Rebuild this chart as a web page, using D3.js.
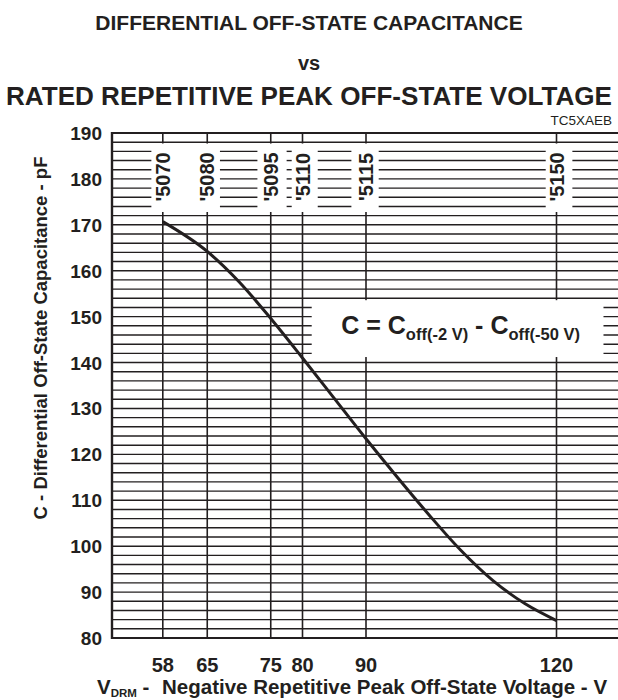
<!DOCTYPE html>
<html><head><meta charset="utf-8">
<script src="https://cdn.jsdelivr.net/npm/d3@7"></script>
<style>body{margin:0;background:#fff}svg{display:block}text{font-family:"Liberation Sans",Arial,sans-serif;fill:#231f20}</style>
</head><body>
<script>
// ---- data ----
const voltage = [58, 65, 70, 75, 80, 85, 90, 95, 100, 105, 110, 115, 120];
const capacitance = [170.7, 164.2, 157.6, 149.6, 141.0, 132.2, 123.4, 114.9, 106.7, 99.0, 92.5, 87.5, 83.8];
const xTicks = [58, 65, 75, 80, 90, 120];
const deviceLabels = ["'5070", "'5080", "'5095", "'5110", "'5115", "'5150"];
const yTicks = [80, 90, 100, 110, 120, 130, 140, 150, 160, 170, 180, 190];
const yMinor = d3.range(80, 191, 2);
// label band: horizontal grid segments (in volts) that remain visible
const bandLevels = [174, 176, 178, 180, 182, 184, 186];
const bandSegments = [[50, 56.2], [67.0, 72.9], [77.5, 78.3], [82.4, 87.7], [92.0, 118.3], [122.5, 130]];
const verticalGap = [187.7, 172.8];
const formulaBox = {v0: 81.45, v1: 127.4, c0: 153.8, c1: 141.2};

const W = 618, H = 700;
const m = {left: 112, right: 620, top: 133, bottom: 638};
const svg = d3.select("body").append("svg").attr("width", W).attr("height", H);
const x = d3.scaleLinear().domain([50, 130]).range([m.left, m.right]);
const y = d3.scaleLinear().domain([80, 190]).range([m.bottom, m.top]);
const ink = "#231f20";

// titles
const t = svg.append("g").attr("text-anchor", "middle").style("font-weight", "bold");
t.append("text").attr("x", 309).attr("y", 30).attr("font-size", 21).text("DIFFERENTIAL OFF-STATE CAPACITANCE");
t.append("text").attr("x", 309).attr("y", 70).attr("font-size", 20).text("vs");
t.append("text").attr("x", 309).attr("y", 105).attr("font-size", 25.5)
  .attr("textLength", 606).attr("lengthAdjust", "spacingAndGlyphs").text("RATED REPETITIVE PEAK OFF-STATE VOLTAGE");
svg.append("text").attr("x", 612).attr("y", 125).attr("text-anchor", "end").attr("font-size", 13.5).text("TC5XAEB");

// grid
const g = svg.append("g");
yMinor.forEach(c => {
  if (bandLevels.includes(c)) {
    bandSegments.forEach(s => g.append("line").attr("x1", x(s[0])).attr("x2", x(s[1])).attr("y1", y(c)).attr("y2", y(c))
      .attr("stroke", ink).attr("stroke-width", 1.4));
  } else {
    g.append("line").attr("x1", m.left).attr("x2", m.right).attr("y1", y(c)).attr("y2", y(c))
      .attr("stroke", ink).attr("stroke-width", (c === 80 || c === 190) ? 2.2 : 1.4);
  }
});
xTicks.forEach(v => {
  g.append("line").attr("x1", x(v)).attr("x2", x(v)).attr("y1", y(190)).attr("y2", y(verticalGap[0])).attr("stroke", ink).attr("stroke-width", 1.6);
  g.append("line").attr("x1", x(v)).attr("x2", x(v)).attr("y1", y(verticalGap[1])).attr("y2", y(80)).attr("stroke", ink).attr("stroke-width", 1.6);
});
g.append("line").attr("x1", m.left).attr("x2", m.left).attr("y1", m.top - 1).attr("y2", m.bottom + 1).attr("stroke", ink).attr("stroke-width", 2.4);

// device labels
deviceLabels.forEach((d, i) => {
  svg.append("text").attr("transform", `translate(${x(xTicks[i]) + 7},${y(180) - 2}) rotate(-90)`)
    .attr("text-anchor", "middle").attr("font-size", 20).style("font-weight", "bold").text(d);
});

// formula box
svg.append("rect").attr("x", x(formulaBox.v0)).attr("y", y(formulaBox.c0) + 1)
  .attr("width", x(formulaBox.v1) - x(formulaBox.v0)).attr("height", y(formulaBox.c1) - y(formulaBox.c0) - 1).attr("fill", "#fff");
const f = svg.append("text").attr("x", (x(formulaBox.v0) + x(formulaBox.v1)) / 2 + 3).attr("y", 334).attr("text-anchor", "middle")
  .style("font-weight", "bold").attr("font-size", 25);
f.append("tspan").text("C = C");
f.append("tspan").attr("font-size", 16.5).attr("dy", 6).text("off(-2 V)");
f.append("tspan").attr("dy", -6).text(" - C");
f.append("tspan").attr("font-size", 16.5).attr("dy", 6).text("off(-50 V)");

// curve
const line = d3.line().x((d, i) => x(voltage[i])).y((d, i) => y(capacitance[i])).curve(d3.curveMonotoneX);
svg.append("path").datum(voltage).attr("d", line).attr("fill", "none").attr("stroke", ink).attr("stroke-width", 3);

// y axis labels
const ya = svg.append("g").attr("text-anchor", "end").style("font-weight", "bold").attr("font-size", 19);
yTicks.forEach(v => ya.append("text").attr("x", 102).attr("y", y(v) + 7).text(v));
svg.append("text").attr("transform", `translate(47,338) rotate(-90)`).attr("text-anchor", "middle")
  .style("font-weight", "bold").attr("font-size", 18.5).text("C - Differential Off-State Capacitance - pF");

// x axis labels
const xa = svg.append("g").attr("text-anchor", "middle").style("font-weight", "bold").attr("font-size", 20);
xTicks.forEach(v => xa.append("text").attr("x", x(v)).attr("y", 672).text(v));
const xt = svg.append("text").attr("y", 694).style("font-weight", "bold").attr("font-size", 20.5);
xt.append("tspan").attr("x", 97).text("V");
xt.append("tspan").attr("font-size", 11.5).attr("dy", 3).text("DRM");
xt.append("tspan").attr("dy", -3).text(" -");
xt.append("tspan").attr("x", 162).text("Negative Repetitive Peak Off-State Voltage - V");
</script>
</body></html>
